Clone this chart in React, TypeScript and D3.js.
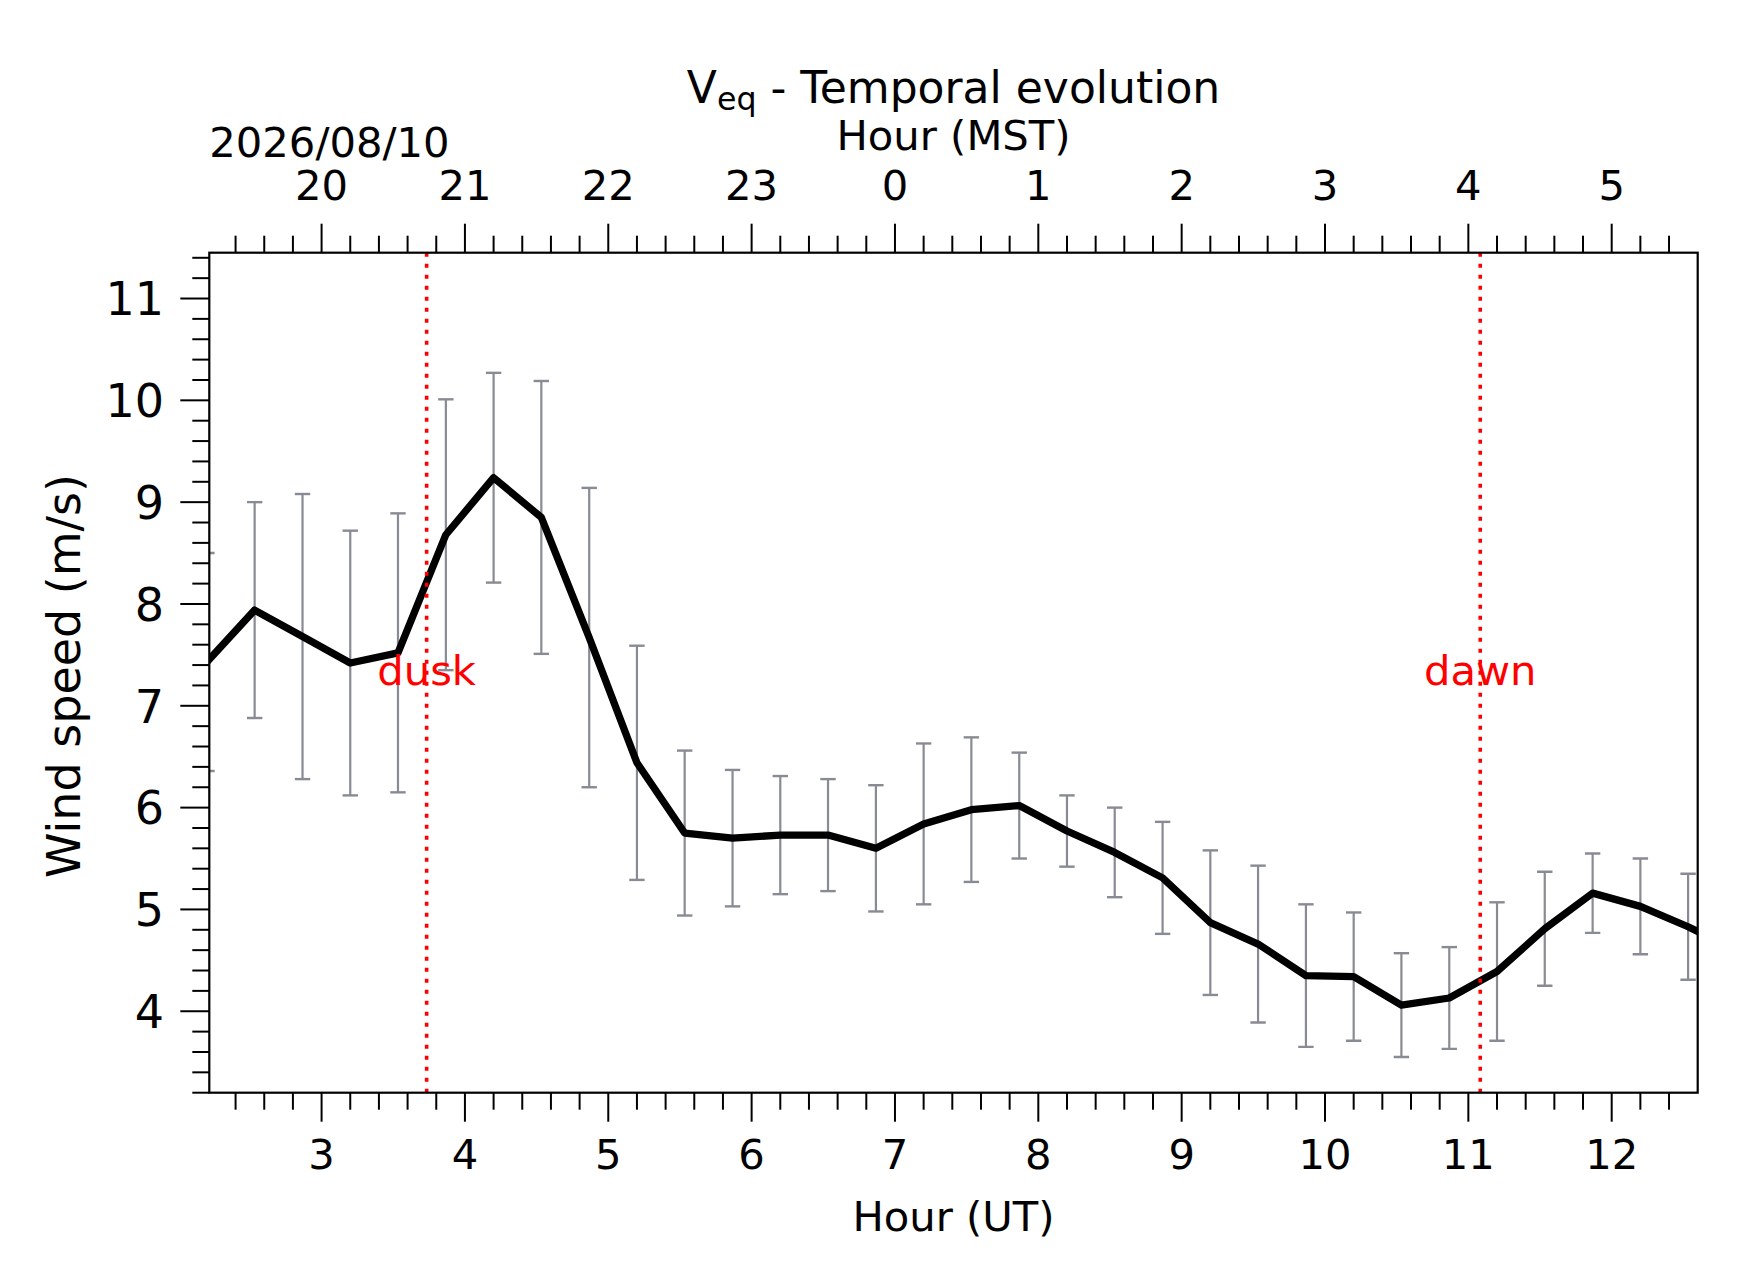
import { useEffect, useRef } from "react";
import * as d3 from "d3";

// Hours (UT) of each 20-minute bin
const hours = [
    2.2, 2.533, 2.867, 3.2, 3.533, 3.867, 4.2, 4.533, 4.867, 5.2, 5.533,
    5.867, 6.2, 6.533, 6.867, 7.2, 7.533, 7.867, 8.2, 8.533, 8.867, 9.2,
    9.533, 9.867, 10.2, 10.533, 10.867, 11.2, 11.533, 11.867, 12.2, 12.533, 12.867,
];

// Mean zonal wind (m/s)
const windMean = [
    7.43, 7.94, 7.68, 7.42, 7.52, 8.68, 9.24, 8.85, 7.67, 6.44, 5.75,
    5.70, 5.73, 5.73, 5.60, 5.84, 5.98, 6.02, 5.77, 5.56, 5.31, 4.87,
    4.66, 4.35, 4.34, 4.06, 4.13, 4.39, 4.81, 5.16, 5.03, 4.83, 4.60,
];

// Standard deviation (m/s)
const windStd = [
    1.07, 1.06, 1.40, 1.30, 1.37, 1.33, 1.03, 1.34, 1.47, 1.15, 0.81,
    0.67, 0.58, 0.55, 0.62, 0.79, 0.71, 0.52, 0.35, 0.44, 0.55, 0.71,
    0.77, 0.70, 0.63, 0.51, 0.50, 0.68, 0.56, 0.39, 0.47, 0.52, 0.50,
];

const utTicks = [3, 4, 5, 6, 7, 8, 9, 10, 11, 12];
const mstLabels = ["20", "21", "22", "23", "0", "1", "2", "3", "4", "5"];
const yTicks = [4, 5, 6, 7, 8, 9, 10, 11];

const duskHour = 3.733;
const dawnHour = 11.083;
const dateLabel = "2026/08/10";

const WIDTH = 1742;
const HEIGHT = 1282;
const FONT = "DejaVu Sans, sans-serif";

export default function App(): JSX.Element {
    const svgRef = useRef<SVGSVGElement>(null);

    useEffect(() => {
        const svg = d3.select(svgRef.current);
        svg.selectAll("*").remove();

        const left = 209.3, right = 1697.7, top = 252.7, bottom = 1092.7;
        const fs = 41.7;      // x axes, labels
        const fsY = 46;       // y axis ticks and label
        const fsTitle = 44;

        const x = d3.scaleLinear().domain([2.2167, 12.6]).range([left, right]);
        const y = d3.scaleLinear().domain([3.2, 11.45]).range([bottom, top]);

        svg.append("rect").attr("width", WIDTH).attr("height", HEIGHT).attr("fill", "#ffffff");

        svg.append("defs").append("clipPath").attr("id", "plot-clip")
            .append("rect")
            .attr("x", left).attr("y", top)
            .attr("width", right - left).attr("height", bottom - top);

        const plot = svg.append("g").attr("clip-path", "url(#plot-clip)");

        const points = hours.map((h, i) => ({ h, m: windMean[i], s: windStd[i] }));

        // Error bars
        const errColor = "#888b93";
        const capHalf = 7.7;
        const eb = plot.append("g");
        points.forEach(p => {
            const cx = x(p.h);
            eb.append("line")
                .attr("x1", cx).attr("x2", cx)
                .attr("y1", y(p.m + p.s)).attr("y2", y(p.m - p.s))
                .attr("stroke", errColor).attr("stroke-width", 2.2);
            [p.m + p.s, p.m - p.s].forEach(v => {
                eb.append("line")
                    .attr("x1", cx - capHalf).attr("x2", cx + capHalf)
                    .attr("y1", y(v)).attr("y2", y(v))
                    .attr("stroke", errColor).attr("stroke-width", 2.4);
            });
        });

        // Mean line
        const line = d3.line<{ h: number; m: number }>()
            .x(d => x(d.h))
            .y(d => y(d.m));

        plot.append("path")
            .attr("d", line(points))
            .attr("fill", "none")
            .attr("stroke", "#000000")
            .attr("stroke-width", 7.3)
            .attr("stroke-linejoin", "round");

        // Dusk / dawn markers
        [duskHour, dawnHour].forEach(h => {
            plot.append("line")
                .attr("x1", x(h)).attr("x2", x(h))
                .attr("y1", top).attr("y2", bottom)
                .attr("stroke", "#ff0000")
                .attr("stroke-width", 3.6)
                .attr("stroke-dasharray", "4 7");
        });
        [["dusk", duskHour], ["dawn", dawnHour]].forEach(([label, h]) => {
            svg.append("text")
                .attr("x", x(h as number)).attr("y", y(7.2))
                .attr("text-anchor", "middle")
                .attr("font-family", FONT).attr("font-size", fs)
                .attr("fill", "#ff0000")
                .text(label as string);
        });

        // Frame
        svg.append("rect")
            .attr("x", left).attr("y", top)
            .attr("width", right - left).attr("height", bottom - top)
            .attr("fill", "none").attr("stroke", "#000000").attr("stroke-width", 2.2);

        const ticks = svg.append("g").attr("stroke", "#000000").attr("stroke-width", 2);
        const majorLen = 29, minorLen = 17;

        // X ticks (bottom and top), minor every 0.2 h
        const xMinor = d3.range(2.4, 12.6, 0.2).filter(v => Math.abs(v - Math.round(v)) > 0.01);
        utTicks.forEach(t => {
            ticks.append("line").attr("x1", x(t)).attr("x2", x(t)).attr("y1", bottom).attr("y2", bottom + majorLen);
            ticks.append("line").attr("x1", x(t)).attr("x2", x(t)).attr("y1", top).attr("y2", top - majorLen);
        });
        xMinor.forEach(t => {
            ticks.append("line").attr("x1", x(t)).attr("x2", x(t)).attr("y1", bottom).attr("y2", bottom + minorLen);
            ticks.append("line").attr("x1", x(t)).attr("x2", x(t)).attr("y1", top).attr("y2", top - minorLen);
        });

        // Y ticks, minor every 0.2
        const yMinor = d3.range(3.2, 11.45, 0.2).filter(v => Math.abs(v - Math.round(v)) > 0.01);
        yTicks.forEach(t => {
            ticks.append("line").attr("x1", left).attr("x2", left - majorLen).attr("y1", y(t)).attr("y2", y(t));
        });
        yMinor.forEach(t => {
            ticks.append("line").attr("x1", left).attr("x2", left - minorLen).attr("y1", y(t)).attr("y2", y(t));
        });

        const txt = svg.append("g").attr("font-family", FONT).attr("font-size", fs).attr("fill", "#000000");

        utTicks.forEach(t => {
            txt.append("text").attr("x", x(t)).attr("y", 1169.3).attr("text-anchor", "middle").text(String(t));
        });
        utTicks.forEach((t, i) => {
            txt.append("text").attr("x", x(t)).attr("y", 200).attr("text-anchor", "middle").text(mstLabels[i]);
        });
        yTicks.forEach(t => {
            txt.append("text")
                .attr("x", 164).attr("y", y(t) + fsY * 0.3645)
                .attr("font-size", fsY)
                .attr("text-anchor", "end").text(String(t));
        });

        const cx = (left + right) / 2;

        txt.append("text").attr("x", cx).attr("y", 1231).attr("text-anchor", "middle").text("Hour (UT)");
        txt.append("text").attr("x", cx).attr("y", 150).attr("text-anchor", "middle").text("Hour (MST)");
        txt.append("text").attr("x", left).attr("y", 156.7).attr("text-anchor", "start").text(dateLabel);
        txt.append("text")
            .attr("transform", `translate(79.5,676) rotate(-90)`)
            .attr("font-size", fsY)
            .attr("text-anchor", "middle")
            .text("Wind speed (m/s)");

        const title = txt.append("text")
            .attr("x", cx).attr("y", 102.7)
            .attr("font-size", fsTitle)
            .attr("text-anchor", "middle");
        title.append("tspan").text("V");
        title.append("tspan").attr("font-size", fsTitle * 0.72).attr("dy", 7).text("eq");
        title.append("tspan").attr("dy", -7).text(" - Temporal evolution");
    }, []);

    return (
        <svg
            ref={svgRef}
            width={WIDTH}
            height={HEIGHT}
            style={{ position: "absolute", left: 0, top: 0 }}
        />
    );
}
